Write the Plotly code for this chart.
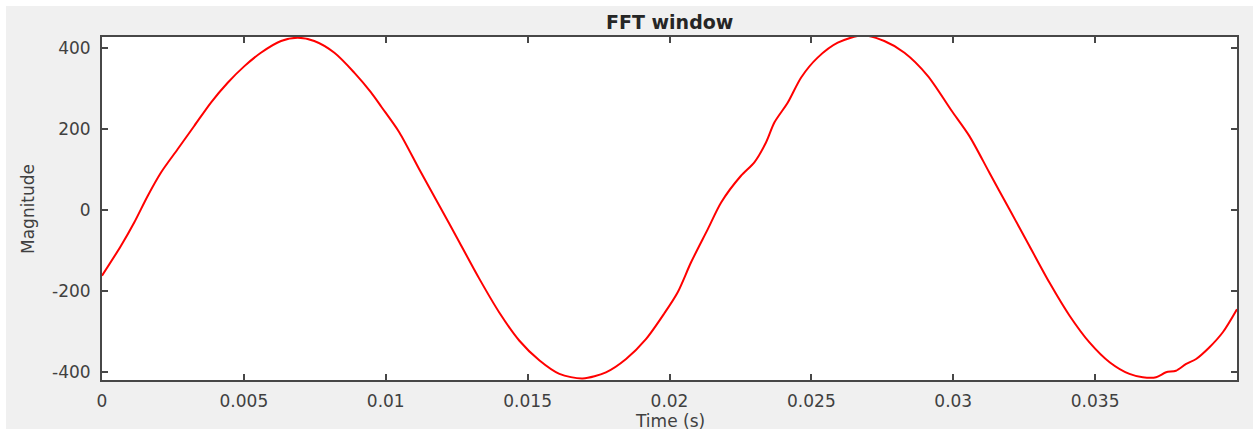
import plotly.graph_objects as go

# Values
time_s = [0.0, 0.00067, 0.00114, 0.00161, 0.00208, 0.00267, 0.00325, 0.00384, 0.00443,
          0.00502, 0.0056, 0.00631, 0.0069, 0.00748, 0.00819, 0.00889, 0.00948, 0.00985,
          0.01048, 0.01118, 0.01189, 0.0126, 0.0133, 0.014, 0.01471, 0.01542, 0.01612,
          0.01694, 0.01776, 0.01847, 0.01917, 0.01982, 0.02029, 0.02076, 0.02135, 0.02182,
          0.02252, 0.02299, 0.0234, 0.0237, 0.02417, 0.02464, 0.02522, 0.02593, 0.02681,
          0.02757, 0.02828, 0.0291, 0.02995, 0.03057, 0.03127, 0.03198, 0.03268, 0.03339,
          0.0341, 0.0348, 0.03551, 0.03621, 0.03668, 0.03715, 0.0375, 0.03785, 0.03821,
          0.03856, 0.03903, 0.0395, 0.04]
magnitude = [-162, -88, -30, 35, 93, 151, 208, 266, 315,
             356, 389, 418, 426, 418, 389, 340, 291, 255,
             192, 101, 11, -80, -170, -253, -323, -372, -405,
             -416, -401, -368, -319, -255, -203, -129, -47, 19,
             85, 118, 167, 217, 266, 328, 377, 414, 432,
             418, 389, 332, 245, 183, 93, 2, -88, -179,
             -261, -327, -376, -405, -413, -413, -401, -397, -380,
             -368, -339, -302, -245]

x_ticks = [0, 0.005, 0.01, 0.015, 0.02, 0.025, 0.03, 0.035]
x_tick_labels = ["0", "0.005", "0.01", "0.015", "0.02", "0.025", "0.03", "0.035"]
y_ticks = [-400, -200, 0, 200, 400]
y_tick_labels = ["-400", "-200", "0", "200", "400"]

W, H = 1253, 432
L, R, T, B = 102, 1237, 37, 380
pw, ph = R - L, B - T

def px(xp):
    return (xp - L) / pw

def py(yp):
    return (B - yp) / ph

font = "DejaVu Sans"
axcol = "#474747"
txtcol = "#404040"

fig = go.Figure()
fig.add_trace(go.Scatter(x=time_s, y=magnitude, mode="lines",
                         line=dict(color="#ff0000", width=2, shape="spline", smoothing=0.8),
                         hoverinfo="skip", showlegend=False))

common = dict(showgrid=False, zeroline=False, showline=True, linecolor=axcol, linewidth=2,
              mirror="allticks", ticks="inside", ticklen=6, tickwidth=2, tickcolor=axcol,
              tickfont=dict(family=font, size=17, color=txtcol))

fig.update_xaxes(range=[0, 0.04], tickvals=x_ticks, ticktext=x_tick_labels,
                 ticklabelstandoff=5, **common)
fig.update_yaxes(range=[-420, 428], tickvals=y_ticks, ticktext=y_tick_labels,
                 ticklabelstandoff=6, **common)

shapes = [
    dict(type="rect", xref="paper", yref="paper", layer="below",
         x0=px(6), x1=px(W + 5), y0=py(429), y1=py(6),
         fillcolor="#f0f0f0", line=dict(width=0)),
    dict(type="rect", xref="paper", yref="paper", layer="below",
         x0=0, x1=1, y0=0, y1=1,
         fillcolor="#ffffff", line=dict(width=0)),
]
annotations = [
    dict(text="<b>FFT window</b>", xref="paper", yref="paper", x=0.5, y=py(22),
         xanchor="center", yanchor="middle", showarrow=False,
         font=dict(family=font, size=19, color="#262626")),
    dict(text="Time (s)", xref="paper", yref="paper", x=0.5, y=py(421),
         xanchor="center", yanchor="middle", showarrow=False,
         font=dict(family=font, size=17, color=txtcol)),
    dict(text="Magnitude", xref="paper", yref="paper", x=px(28), y=py(209),
         xanchor="center", yanchor="middle", showarrow=False, textangle=-90,
         font=dict(family=font, size=17, color=txtcol)),
]

fig.update_layout(width=W, height=H, margin=dict(l=L, r=W - R, t=T, b=H - B, pad=0),
                  paper_bgcolor="#ffffff", plot_bgcolor="#ffffff",
                  shapes=shapes, annotations=annotations)

fig.write_html("out.html")
